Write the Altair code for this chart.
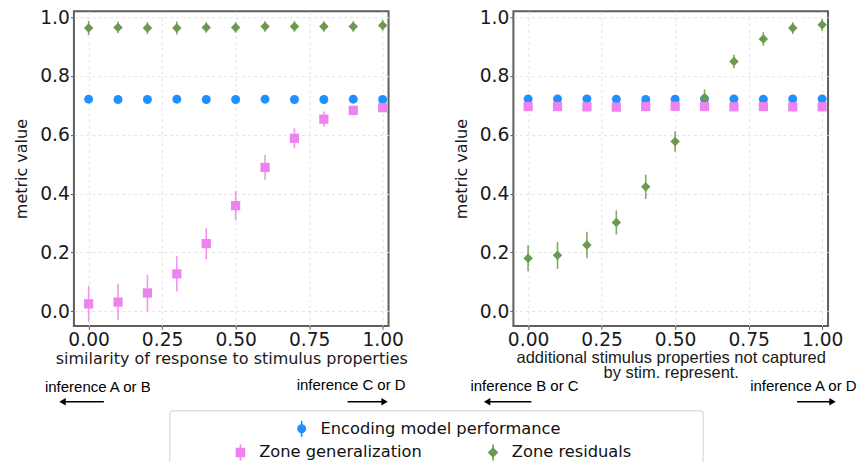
import altair as alt
import pandas as pd

# ---------------- data ----------------
x_vals = [0.0, 0.1, 0.2, 0.3, 0.4, 0.5, 0.6, 0.7, 0.8, 0.9, 1.0]
series_names = ["Encoding model performance", "Zone generalization", "Zone residuals"]
series_colors = ["#1e90ff", "#ee82ee", "#6a9a50"]
series_shapes = ["circle", "square", "diamond"]
series_sizes = [80, 90, 110]

# left panel
enc_left = [0.721, 0.720, 0.720, 0.721, 0.720, 0.720, 0.721, 0.720, 0.720, 0.721, 0.720]
enc_left_err = [0.010, 0.008, 0.008, 0.010, 0.010, 0.010, 0.010, 0.008, 0.008, 0.008, 0.008]
gen_left = [0.025, 0.031, 0.062, 0.127, 0.230, 0.359, 0.489, 0.588, 0.653, 0.683, 0.692]
gen_left_err = [0.062, 0.062, 0.062, 0.060, 0.053, 0.050, 0.042, 0.034, 0.026, 0.016, 0.015]
res_left = [0.963, 0.965, 0.963, 0.963, 0.965, 0.965, 0.968, 0.968, 0.968, 0.968, 0.972]
res_left_err = [0.024, 0.020, 0.020, 0.022, 0.018, 0.018, 0.018, 0.018, 0.018, 0.018, 0.018]

# right panel
enc_right = [0.722, 0.722, 0.722, 0.721, 0.720, 0.721, 0.722, 0.722, 0.721, 0.722, 0.722]
enc_right_err = [0.008, 0.008, 0.008, 0.008, 0.008, 0.008, 0.008, 0.008, 0.008, 0.008, 0.008]
gen_right = [0.696, 0.696, 0.695, 0.694, 0.696, 0.697, 0.696, 0.695, 0.696, 0.695, 0.695]
gen_right_err = [0.015, 0.015, 0.015, 0.015, 0.015, 0.015, 0.015, 0.015, 0.015, 0.015, 0.015]
res_right = [0.180, 0.190, 0.225, 0.302, 0.423, 0.577, 0.726, 0.849, 0.926, 0.963, 0.974]
res_right_err = [0.044, 0.046, 0.045, 0.041, 0.041, 0.035, 0.028, 0.023, 0.023, 0.020, 0.020]

x_ticks = [0.0, 0.25, 0.5, 0.75, 1.0]
y_ticks = [0.0, 0.2, 0.4, 0.6, 0.8, 1.0]

left_xtitle = "similarity of response to stimulus properties"
right_xtitle = ["additional stimulus properties not captured", "by stim. represent."]
ytitle = "metric value"

left_notes = ["inference A or B", "inference C or D"]
right_notes = ["inference B or C", "inference A or D"]


def panel_df(means, errs):
    rows = []
    for k, (name, m, e) in enumerate(zip(series_names, means, errs)):
        for x, mv, ev in zip(x_vals, m, e):
            rows.append({"x": x, "series": name, "mean": mv, "err": ev, "k": k})
    return pd.DataFrame(rows)


W = H = 315
DOM_X = [-0.05, 1.02]
DOM_Y = [-0.05, 1.02]


def x_enc(title, font, size, pad, lh=None):
    ax = dict(values=x_ticks, format=".2f", title=title, titleFont=font,
              titleFontSize=size, titlePadding=pad)
    if lh is not None:
        ax["titleLineHeight"] = lh
    return alt.X("x:Q", scale=alt.Scale(domain=DOM_X, nice=False, zero=False),
                 axis=alt.Axis(**ax))


def y_axis():
    return alt.Axis(values=y_ticks, format=".1f", title=ytitle, titlePadding=10)


color = alt.Color("series:N", scale=alt.Scale(domain=series_names, range=series_colors), legend=None)
shape = alt.Shape("series:N", scale=alt.Scale(domain=series_names, range=series_shapes), legend=None)
size = alt.Size("series:N", scale=alt.Scale(domain=series_names, range=series_sizes), legend=None)


def arrow(x_tail, x_tip, y, direction):
    sgn = 1 if direction == "left" else -1
    line = alt.Chart(pd.DataFrame({"a": [0]})).mark_rule(color="black", strokeWidth=1.5).encode(
        x=alt.value(x_tail), x2=alt.value(x_tip + 6 * sgn), y=alt.value(y))
    head = alt.Chart(pd.DataFrame({"a": [0]})).mark_point(
        shape="triangle-left" if direction == "left" else "triangle-right",
        filled=True, color="black", opacity=1, size=55).encode(
        x=alt.value(x_tip + 4 * sgn), y=alt.value(y))
    return line + head


def note(text, x, y):
    return alt.Chart(pd.DataFrame({"t": [text]})).mark_text(
        align="left", baseline="middle", font="Liberation Sans", fontSize=15, color="black").encode(
        text="t:N", x=alt.value(x), y=alt.value(y))


def panel(df, xenc):
    base = alt.Chart(df)
    bars = base.transform_calculate(lo="datum.mean - datum.err", hi="datum.mean + datum.err").mark_rule(
        strokeWidth=1.6, opacity=0.85).encode(
        x=xenc, y=alt.Y("lo:Q", scale=alt.Scale(domain=DOM_Y, nice=False, zero=False), axis=y_axis()),
        y2="hi:Q", color=color)
    pts = base.mark_point(filled=True, opacity=1).encode(
        x=xenc, y=alt.Y("mean:Q", scale=alt.Scale(domain=DOM_Y, nice=False, zero=False), axis=y_axis()),
        color=color, shape=shape, size=size, order="k:Q")
    return bars + pts


left_df = panel_df([enc_left, gen_left, res_left], [enc_left_err, gen_left_err, res_left_err])
right_df = panel_df([enc_right, gen_right, res_right], [enc_right_err, gen_right_err, res_right_err])

left_main = panel(left_df, x_enc(left_xtitle, "DejaVu Sans", 16, 1))
right_main = panel(right_df, x_enc(right_xtitle, "Liberation Sans", 16.5, 0, 15))

# invisible anchor that fixes where the plot area sits on the page
anchor = alt.Chart(pd.DataFrame({"a": [0]})).mark_rect(opacity=0).encode(
    x=alt.value(-73), x2=alt.value(-72), y=alt.value(-10), y2=alt.value(-9))

# custom legend (drawn in the left panel's coordinates)
leg_box = alt.Chart(pd.DataFrame({"a": [0]})).mark_rect(
    fill="white", stroke="#d9d9d9", strokeWidth=1.2, cornerRadius=3).encode(
    x=alt.value(96), x2=alt.value(630), y=alt.value(400), y2=alt.value(470))
legend_pos = [(228, 418), (166.7, 441.7), (419.6, 441.7)]
legend_layers = [leg_box]
for name, col, shp, sz, (lx, ly) in zip(series_names, series_colors, series_shapes, series_sizes, legend_pos):
    legend_layers.append(alt.Chart(pd.DataFrame({"a": [0]})).mark_rule(color=col, strokeWidth=1.6).encode(
        x=alt.value(lx), y=alt.value(ly - 8), y2=alt.value(ly + 8)))
    legend_layers.append(alt.Chart(pd.DataFrame({"a": [0]})).mark_point(
        shape=shp, filled=True, color=col, opacity=1, size=sz).encode(x=alt.value(lx), y=alt.value(ly)))
    legend_layers.append(alt.Chart(pd.DataFrame({"t": [name]})).mark_text(
        align="left", baseline="middle", font="DejaVu Sans", fontSize=16.3, color="#111").encode(
        text="t:N", x=alt.value(lx + 18.8), y=alt.value(ly)))

left = alt.layer(
    left_main, anchor,
    note(left_notes[0], -29, 376), arrow(30, -15.4, 391, "left"),
    note(left_notes[1], 223, 374), arrow(274, 315, 391, "right"),
    *legend_layers,
).properties(width=W, height=H)

right = alt.layer(
    right_main,
    note(right_notes[0], -43, 375), arrow(18, -30.3, 391, "left"),
    note(right_notes[1], 237, 375), arrow(284, 323.5, 391, "right"),
).properties(width=W, height=H)

chart = alt.hconcat(left, right, spacing=125, bounds="flush").properties(padding=0).configure_view(
    stroke="#5e5e5e", strokeWidth=2
).configure_axis(
    grid=True, gridColor="#e3e3e3", gridDash=[3, 3], gridWidth=1,
    domain=False, tickColor="#5e5e5e", tickSize=3.5, labelPadding=1,
    labelFont="DejaVu Sans", labelFontSize=18.7, labelColor="#1a1a1a",
    titleFont="DejaVu Sans", titleFontSize=16, titleFontWeight="normal", titleColor="#1a1a1a",
)

chart.save("out.html", embed_options={"renderer": "svg", "actions": False})
